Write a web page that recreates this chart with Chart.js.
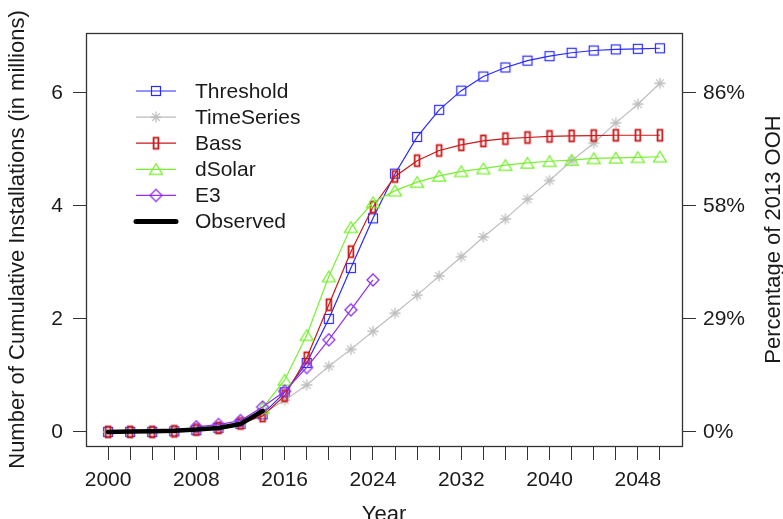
<!DOCTYPE html>
<html>
<head>
<meta charset="utf-8">
<script src="https://cdn.jsdelivr.net/npm/chart.js@4.4.0/dist/chart.umd.min.js"></script>
<style>
  html, body { margin: 0; padding: 0; background: #fff; }
  #wrap { width: 783px; height: 519px; }
</style>
</head>
<body>
<div id="wrap"><canvas id="chart" width="783" height="519"></canvas></div>
<script>
// years, every 2 years
const years = [2000, 2002, 2004, 2006, 2008, 2010, 2012, 2014, 2016, 2018, 2020, 2022, 2024,
               2026, 2028, 2030, 2032, 2034, 2036, 2038, 2040, 2042, 2044, 2046, 2048, 2050];

const threshold = [0, 0, 0, 0.01, 0.03, 0.07, 0.14, 0.31, 0.70, 1.22, 2.00, 2.90, 3.78,
                   4.57, 5.22, 5.70, 6.04, 6.29, 6.45, 6.57, 6.65, 6.71, 6.75, 6.77, 6.78, 6.79];
const timeSeries = [0, 0, 0, 0.01, 0.03, 0.06, 0.13, 0.32, 0.56, 0.83, 1.16, 1.46, 1.78,
                    2.10, 2.42, 2.76, 3.10, 3.45, 3.77, 4.12, 4.45, 4.80, 5.11, 5.47, 5.80, 6.17];
const bass = [0, 0, 0, 0.01, 0.04, 0.07, 0.15, 0.28, 0.64, 1.31, 2.25, 3.19, 3.98,
              4.52, 4.80, 4.98, 5.08, 5.15, 5.19, 5.21, 5.23, 5.24, 5.245, 5.25, 5.25, 5.25];
const dSolar = [null, null, null, null, null, null, null, 0.42, 0.92, 1.71, 2.75, 3.62, 4.06,
                4.27, 4.42, 4.53, 4.61, 4.66, 4.72, 4.76, 4.79, 4.81, 4.84, 4.85, 4.86, 4.87];
const e3 = [null, null, null, null, 0.09, 0.13, 0.20, 0.44, 0.72, 1.14, 1.63, 2.16, 2.69,
            null, null, null, null, null, null, null, null, null, null, null, null, null];

const obsYears = [2000, 2002, 2004, 2006, 2008, 2010, 2012, 2014];
const observed = [0, 0.005, 0.01, 0.02, 0.04, 0.07, 0.14, 0.37];

const leftTicks = [0, 2, 4, 6];
const pctLabels = ['0%', '29%', '58%', '86%'];
const xLabelYears = [2000, 2008, 2016, 2024, 2032, 2040, 2048];

const FONT = "'Liberation Sans', Arial, Helvetica, sans-serif";
const C_BLUE = '#2a2aff';
const C_GRAY = '#bebebe';
const C_RED = '#cc1818';
const C_GREEN = '#78f030';
const C_PURPLE = '#9030ee';

function makeMarker(kind, color) {
    const c = document.createElement('canvas');
    const g = c.getContext('2d');
    if (kind === 'square') {
        c.width = 14; c.height = 14;
        g.strokeStyle = color; g.lineWidth = 1.2;
        g.strokeRect(2.5, 2.5, 9, 9);
    } else if (kind === 'star') {
        c.width = 14; c.height = 14;
        g.strokeStyle = color; g.lineWidth = 1.3;
        const r = 5.5, r2 = r * Math.SQRT1_2;
        g.beginPath();
        g.moveTo(7 - r, 7); g.lineTo(7 + r, 7);
        g.moveTo(7, 7 - r); g.lineTo(7, 7 + r);
        g.moveTo(7 - r2, 7 - r2); g.lineTo(7 + r2, 7 + r2);
        g.moveTo(7 - r2, 7 + r2); g.lineTo(7 + r2, 7 - r2);
        g.stroke();
    } else if (kind === 'bar') {
        c.width = 10; c.height = 16;
        g.strokeStyle = color; g.lineWidth = 1.8;
        g.strokeRect(2.6, 2.5, 4.8, 11);
    } else if (kind === 'triangle') {
        c.width = 18; c.height = 16;
        g.strokeStyle = color; g.lineWidth = 1.3;
        g.beginPath();
        g.moveTo(9, 2.5); g.lineTo(2.5, 13.2); g.lineTo(15.5, 13.2); g.closePath();
        g.stroke();
    } else if (kind === 'diamond') {
        c.width = 16; c.height = 16;
        g.strokeStyle = color; g.lineWidth = 1.3;
        g.beginPath();
        g.moveTo(8, 2); g.lineTo(14, 8); g.lineTo(8, 14); g.lineTo(2, 8); g.closePath();
        g.stroke();
    }
    return c;
}

const markers = {
    threshold: makeMarker('square', C_BLUE),
    timeSeries: makeMarker('star', C_GRAY),
    bass: makeMarker('bar', C_RED),
    dSolar: makeMarker('triangle', C_GREEN),
    e3: makeMarker('diamond', C_PURPLE)
};

function pts(xs, ys) {
    return xs.map((x, i) => ({ x: x, y: ys[i] }));
}

function series(label, values, color, marker, order) {
    return {
        label: label,
        data: pts(years, values),
        borderColor: color,
        borderWidth: 1.2,
        pointStyle: marker,
        pointRadius: 5,
        tension: 0,
        spanGaps: false,
        order: order
    };
}

const legendRows = [
    { text: 'Threshold', color: C_BLUE, marker: markers.threshold },
    { text: 'TimeSeries', color: C_GRAY, marker: markers.timeSeries },
    { text: 'Bass', color: C_RED, marker: markers.bass },
    { text: 'dSolar', color: C_GREEN, marker: markers.dSolar },
    { text: 'E3', color: C_PURPLE, marker: markers.e3 },
    { text: 'Observed', color: '#000', marker: null }
];

const decorations = {
    id: 'decorations',
    afterDraw(chart) {
        const ctx = chart.ctx;
        const a = chart.chartArea;
        ctx.save();
        // box
        ctx.strokeStyle = '#333';
        ctx.lineWidth = 1.3;
        ctx.strokeRect(Math.round(a.left) + 0.5, Math.round(a.top) + 0.5,
            Math.round(a.right - a.left), Math.round(a.bottom - a.top));

        // legend
        ctx.font = '21px ' + FONT;
        ctx.textBaseline = 'middle';
        ctx.textAlign = 'left';
        legendRows.forEach((row, i) => {
            const y = 91 + i * 26.1;
            ctx.beginPath();
            if (row.marker) {
                ctx.strokeStyle = row.color;
                ctx.lineWidth = 1.2;
                ctx.lineCap = 'butt';
                ctx.moveTo(136, y); ctx.lineTo(176, y);
                ctx.stroke();
                ctx.drawImage(row.marker, 156 - row.marker.width / 2, y - row.marker.height / 2);
            } else {
                ctx.strokeStyle = '#000';
                ctx.lineWidth = 5;
                ctx.lineCap = 'round';
                ctx.moveTo(136, y); ctx.lineTo(176, y);
                ctx.stroke();
            }
            ctx.fillStyle = '#1a1a1a';
            ctx.fillText(row.text, 195, y + 1);
        });

        // axis titles
        ctx.fillStyle = '#1a1a1a';
        ctx.font = '22px ' + FONT;
        ctx.textAlign = 'center';
        ctx.textBaseline = 'alphabetic';
        const midY = (a.top + a.bottom) / 2;
        ctx.save();
        ctx.translate(24, midY);
        ctx.rotate(-Math.PI / 2);
        ctx.fillText('Number of Cumulative Installations (in millions)', 0, 0);
        ctx.restore();
        ctx.save();
        ctx.translate(780, midY);
        ctx.rotate(-Math.PI / 2);
        ctx.fillText('Percentage of 2013 OOH', 0, 0);
        ctx.restore();
        ctx.fillText('Year', (a.left + a.right) / 2, 521);
        ctx.restore();
    }
};

const tickFont = { family: FONT, size: 21 };

new Chart(document.getElementById('chart'), {
    type: 'line',
    data: {
        datasets: [
            {
                label: 'Observed',
                data: pts(obsYears, observed),
                borderColor: '#000',
                borderWidth: 4.5,
                borderCapStyle: 'round',
                borderJoinStyle: 'round',
                pointRadius: 0,
                tension: 0,
                order: 0
            },
            series('E3', e3, C_PURPLE, markers.e3, 1),
            series('dSolar', dSolar, C_GREEN, markers.dSolar, 2),
            series('Bass', bass, C_RED, markers.bass, 3),
            series('TimeSeries', timeSeries, C_GRAY, markers.timeSeries, 4),
            series('Threshold', threshold, C_BLUE, markers.threshold, 5)
        ]
    },
    options: {
        responsive: false,
        animation: false,
        devicePixelRatio: 1,
        layout: { padding: { top: 33, left: 0, right: 0, bottom: 0 } },
        plugins: {
            legend: { display: false },
            tooltip: { enabled: false }
        },
        scales: {
            x: {
                type: 'linear',
                min: 1998,
                max: 2052,
                afterBuildTicks: (s) => { s.ticks = years.map(v => ({ value: v })); },
                afterFit: (s) => { s.height = 73; },
                border: { display: false },
                grid: { drawOnChartArea: false, drawTicks: true, tickLength: 14, color: '#333', lineWidth: 1 },
                ticks: {
                    autoSkip: false,
                    maxRotation: 0,
                    padding: 8,
                    color: '#1a1a1a',
                    font: tickFont,
                    callback: (v) => xLabelYears.includes(v) ? String(v) : ''
                }
            },
            y: {
                type: 'linear',
                position: 'left',
                min: -0.25,
                max: 7.06,
                afterBuildTicks: (s) => { s.ticks = leftTicks.map(v => ({ value: v })); },
                afterFit: (s) => { s.width = 86; },
                border: { display: false },
                grid: { drawOnChartArea: false, tickLength: 13, color: '#333', lineWidth: 1 },
                ticks: { padding: 10, color: '#1a1a1a', font: tickFont, callback: (v) => String(v) }
            },
            y2: {
                type: 'linear',
                position: 'right',
                min: -0.25,
                max: 7.06,
                afterBuildTicks: (s) => { s.ticks = leftTicks.map(v => ({ value: v })); },
                afterFit: (s) => { s.width = 101; },
                border: { display: false },
                grid: { drawOnChartArea: false, tickLength: 14, color: '#333', lineWidth: 1 },
                ticks: {
                    padding: 7, color: '#1a1a1a', font: tickFont,
                    callback: (v) => pctLabels[leftTicks.indexOf(v)]
                }
            }
        }
    },
    plugins: [decorations]
});
</script>
</body>
</html>
